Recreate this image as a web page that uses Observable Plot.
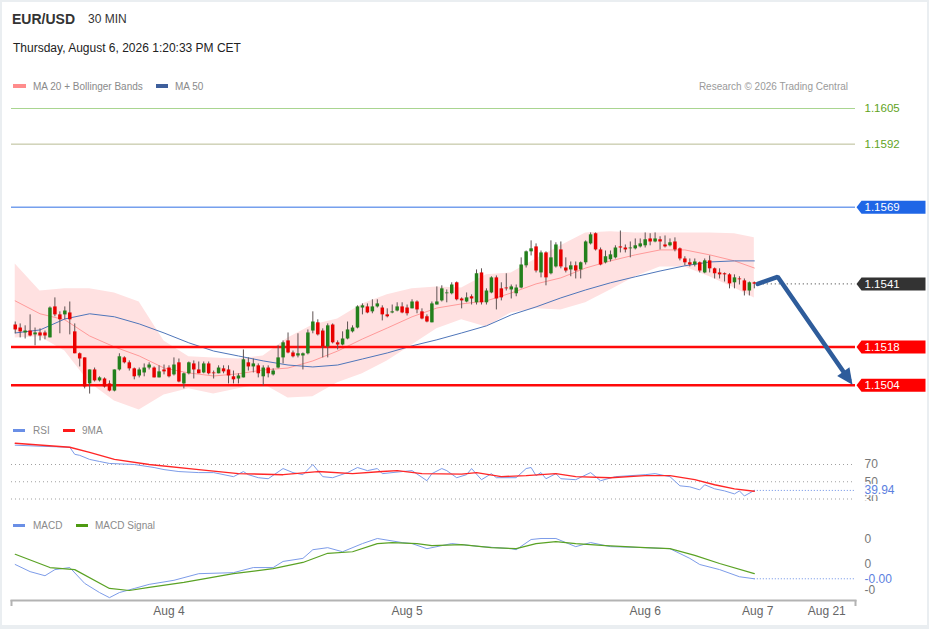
<!DOCTYPE html>
<html><head><meta charset="utf-8">
<script src="https://cdn.jsdelivr.net/npm/d3@7"></script>
<script src="https://cdn.jsdelivr.net/npm/@observablehq/plot@0.6"></script>
<style>
html,body{margin:0;padding:0;background:#fff;}
#page{position:relative;width:929px;height:629px;overflow:hidden;font-family:"Liberation Sans",Arial,sans-serif;background:#fff;}
.t{position:absolute;white-space:nowrap;line-height:1;}
.sw{position:absolute;}
#border{position:absolute;left:0;top:0;width:929px;height:629px;box-sizing:border-box;border:2px solid #eaeef1;border-bottom-width:4px;pointer-events:none;}
#page svg{position:absolute;left:0;}
</style></head>
<body><div id="page"></div>
<script>
// ---------- candle data (30 min, index 0..149) ----------
const open = [1.15260,1.15249,1.15231,1.15238,1.15224,1.15231,1.15231,1.15213,1.15326,1.15297,
1.15297,1.15304,1.15235,1.15155,1.15140,1.15045,1.15096,1.15056,1.15063,1.15045,
1.15019,1.15096,1.15140,1.15122,1.15100,1.15074,1.15085,1.15103,1.15103,1.15067,
1.15096,1.15103,1.15078,1.15122,1.15045,1.15082,1.15118,1.15096,1.15085,1.15118,
1.15085,1.15082,1.15100,1.15096,1.15071,1.15063,1.15067,1.15122,1.15107,1.15111,
1.15071,1.15103,1.15078,1.15103,1.15140,1.15202,1.15158,1.15147,1.15147,1.15155,
1.15238,1.15268,1.15238,1.15180,1.15260,1.15195,1.15187,1.15209,1.15235,1.15249,
1.15322,1.15326,1.15308,1.15326,1.15322,1.15297,1.15304,1.15311,1.15326,1.15322,
1.15319,1.15344,1.15308,1.15290,1.15268,1.15333,1.15348,1.15374,1.15374,1.15414,
1.15355,1.15344,1.15363,1.15341,1.15450,1.15341,1.15377,1.15432,1.15392,1.15395,
1.15388,1.15374,1.15395,1.15476,1.15527,1.15545,1.15450,1.15523,1.15447,1.15472,
1.15534,1.15468,1.15461,1.15476,1.15461,1.15487,1.15556,1.15593,1.15534,1.15487,
1.15498,1.15505,1.15545,1.15541,1.15538,1.15538,1.15545,1.15549,1.15574,1.15563,
1.15571,1.15552,1.15549,1.15563,1.15538,1.15501,1.15487,1.15479,1.15487,1.15450,
1.15494,1.15465,1.15450,1.15447,1.15443,1.15414,1.15428,1.15421,1.15384,1.15414];
const close = [1.15242,1.15235,1.15238,1.15220,1.15231,1.15220,1.15220,1.15322,1.15297,1.15279,
1.15311,1.15279,1.15155,1.15136,1.15034,1.15096,1.15056,1.15067,1.15034,1.15019,
1.15096,1.15144,1.15122,1.15100,1.15071,1.15096,1.15103,1.15114,1.15067,1.15089,
1.15089,1.15071,1.15114,1.15052,1.15082,1.15122,1.15096,1.15082,1.15118,1.15082,
1.15082,1.15103,1.15089,1.15074,1.15060,1.15074,1.15133,1.15107,1.15118,1.15082,
1.15103,1.15082,1.15092,1.15140,1.15195,1.15158,1.15144,1.15155,1.15155,1.15231,
1.15271,1.15224,1.15180,1.15257,1.15195,1.15187,1.15209,1.15242,1.15249,1.15326,
1.15330,1.15304,1.15326,1.15337,1.15297,1.15290,1.15308,1.15326,1.15304,1.15301,
1.15344,1.15315,1.15282,1.15271,1.15337,1.15344,1.15392,1.15377,1.15406,1.15352,
1.15348,1.15359,1.15355,1.15447,1.15341,1.15384,1.15432,1.15355,1.15359,1.15392,
1.15399,1.15395,1.15479,1.15527,1.15538,1.15457,1.15523,1.15432,1.15505,1.15552,
1.15472,1.15457,1.15476,1.15457,1.15487,1.15563,1.15589,1.15534,1.15479,1.15509,
1.15516,1.15541,1.15541,1.15534,1.15541,1.15549,1.15556,1.15571,1.15563,1.15574,
1.15563,1.15545,1.15560,1.15534,1.15501,1.15487,1.15479,1.15490,1.15457,1.15494,
1.15465,1.15447,1.15443,1.15443,1.15410,1.15432,1.15425,1.15384,1.15414,1.15409];
const high = [1.15271,1.15264,1.15257,1.15297,1.15249,1.15246,1.15238,1.15326,1.15359,1.15308,
1.15326,1.15344,1.15264,1.15158,1.15140,1.15096,1.15103,1.15071,1.15067,1.15056,
1.15096,1.15155,1.15144,1.15129,1.15103,1.15103,1.15118,1.15122,1.15107,1.15111,
1.15114,1.15111,1.15140,1.15136,1.15085,1.15125,1.15129,1.15125,1.15125,1.15125,
1.15092,1.15111,1.15111,1.15111,1.15092,1.15082,1.15169,1.15140,1.15136,1.15118,
1.15111,1.15111,1.15100,1.15184,1.15202,1.15231,1.15165,1.15228,1.15158,1.15242,
1.15308,1.15279,1.15246,1.15264,1.15264,1.15202,1.15235,1.15271,1.15257,1.15330,
1.15337,1.15337,1.15352,1.15352,1.15330,1.15319,1.15333,1.15341,1.15341,1.15333,
1.15352,1.15348,1.15319,1.15297,1.15344,1.15399,1.15403,1.15388,1.15414,1.15417,
1.15359,1.15377,1.15370,1.15461,1.15465,1.15392,1.15436,1.15439,1.15414,1.15447,
1.15406,1.15406,1.15505,1.15530,1.15567,1.15556,1.15530,1.15527,1.15567,1.15560,
1.15563,1.15505,1.15490,1.15490,1.15490,1.15567,1.15596,1.15596,1.15541,1.15530,
1.15530,1.15549,1.15603,1.15552,1.15563,1.15574,1.15574,1.15596,1.15593,1.15596,
1.15582,1.15585,1.15574,1.15578,1.15541,1.15509,1.15501,1.15501,1.15490,1.15501,
1.15512,1.15468,1.15465,1.15450,1.15447,1.15443,1.15436,1.15428,1.15417,1.15417];
const low = [1.15228,1.15213,1.15209,1.15217,1.15184,1.15202,1.15206,1.15213,1.15290,1.15228,
1.15279,1.15224,1.15155,1.15107,1.15027,1.15008,1.15052,1.15052,1.15030,1.15016,
1.15016,1.15092,1.15118,1.15092,1.15060,1.15067,1.15071,1.15096,1.15067,1.15067,
1.15078,1.15067,1.15074,1.15049,1.15027,1.15078,1.15063,1.15082,1.15082,1.15078,
1.15063,1.15082,1.15082,1.15045,1.15045,1.15045,1.15067,1.15092,1.15085,1.15067,
1.15038,1.15067,1.15074,1.15100,1.15118,1.15155,1.15140,1.15140,1.15096,1.15151,
1.15228,1.15220,1.15140,1.15140,1.15191,1.15169,1.15184,1.15206,1.15231,1.15246,
1.15297,1.15301,1.15301,1.15322,1.15275,1.15286,1.15301,1.15308,1.15301,1.15293,
1.15319,1.15301,1.15279,1.15268,1.15268,1.15333,1.15344,1.15341,1.15370,1.15348,
1.15319,1.15341,1.15333,1.15333,1.15333,1.15333,1.15374,1.15315,1.15348,1.15384,
1.15355,1.15363,1.15392,1.15468,1.15512,1.15450,1.15432,1.15403,1.15443,1.15468,
1.15465,1.15450,1.15436,1.15428,1.15428,1.15479,1.15552,1.15530,1.15476,1.15483,
1.15490,1.15501,1.15523,1.15523,1.15505,1.15534,1.15541,1.15541,1.15549,1.15560,
1.15534,1.15541,1.15545,1.15527,1.15494,1.15476,1.15472,1.15472,1.15450,1.15447,
1.15450,1.15428,1.15428,1.15417,1.15392,1.15392,1.15406,1.15366,1.15366,1.15392];

// ---------- MA 20 + Bollinger Bands, MA 50 (read at every 5th candle) ----------
const bbIdx = [0,5,10,15,20,25,30,35,40,45,50,55,60,65,70,75,80,85,90,95,100,105,110,115,120,125,130,135,140,145,149];
const ma20 = [1.15348,1.15301,1.15279,1.15220,1.15180,1.15147,1.15103,1.15085,1.15074,1.15082,1.15096,1.15103,1.15129,1.15165,1.15209,1.15249,1.15290,1.15322,1.15337,1.15348,1.15377,1.15410,1.15432,1.15468,1.15494,1.15516,1.15534,1.15534,1.15516,1.15494,1.15468];
const bbUpper = [1.15483,1.15384,1.15392,1.15392,1.15377,1.15344,1.15202,1.15144,1.15140,1.15136,1.15147,1.15213,1.15260,1.15282,1.15337,1.15370,1.15392,1.15399,1.15395,1.15443,1.15450,1.15501,1.15549,1.15596,1.15600,1.15596,1.15596,1.15596,1.15596,1.15593,1.15578];
const bbLower = [1.15213,1.15217,1.15165,1.15049,1.14983,1.14950,1.15005,1.15027,1.15008,1.15027,1.15045,1.14994,1.14998,1.15049,1.15082,1.15129,1.15187,1.15246,1.15279,1.15253,1.15304,1.15319,1.15315,1.15341,1.15388,1.15436,1.15472,1.15472,1.15436,1.15395,1.15359];
const ma50 = [1.15231,1.15242,1.15282,1.15301,1.15290,1.15264,1.15231,1.15195,1.15165,1.15147,1.15129,1.15114,1.15107,1.15114,1.15136,1.15158,1.15184,1.15206,1.15231,1.15257,1.15297,1.15326,1.15359,1.15388,1.15414,1.15436,1.15457,1.15476,1.15490,1.15494,1.15494];

// ---------- levels ----------
const greenLevels = [1.1605, 1.1592];
const pivotLevel = 1.1569;
const lastPrice = 1.1541;
const supportLevels = [1.1518, 1.1504];
// projection arrow (candle index, price)
const projIdx = [149.7, 153.7, 168.1];
const projPrice = [1.1541, 1.15436, 1.15060];

// ---------- RSI ----------
const rsiIdx = [0,5,11,12,13,15,17,19,24,28,30,33,37,40,44,46,47,49,51,54,56,58,60,62,64,67,69,71,73,74,78,80,83,84,86,87,89,91,92,94,96,97,101,103,104,105,106,107,109,110,113,116,118,121,127,129,132,134,136,138,139,141,143,145,146,147,149];
const rsiVal = [92.4,91.2,90.0,81.8,80.6,75.9,73.5,71.2,70.0,66.5,64.1,61.8,60.6,60.6,55.9,61.8,58.2,54.7,53.5,65.3,60.6,58.2,70.0,55.9,54.7,60.6,66.5,62.9,65.3,59.4,61.8,62.9,51.2,59.4,65.3,62.9,54.7,58.2,65.3,52.4,59.4,54.7,54.7,65.3,66.5,57.1,60.6,53.5,59.4,53.5,52.4,60.6,51.2,55.9,58.2,59.4,55.9,45.3,44.1,40.6,46.5,41.8,39.4,35.9,39.4,33.5,39.94];
const rsiMaIdx = [0,11,15,20,27,37,45,54,61,68,74,77,82,90,93,98,103,109,113,120,127,132,137,141,145,149];
const rsiMaVal = [94.7,90.0,84.1,75.9,70.0,64.1,59.4,58.2,61.8,59.4,61.8,62.9,59.4,58.8,60.6,55.9,57.1,59.4,55.9,54.7,57.1,57.1,52.4,46.5,41.8,39.0];
const rsiLevels = [70, 50, 30];
const rsiLast = 39.94;

// ---------- MACD ----------
const macdIdx = [0,3,6,8,11,14,17,19,21,24,27,32,37,44,48,52,54,58,60,63,66,70,73,78,80,83,88,90,94,100,101,104,106,109,113,116,120,127,132,136,138,142,146,149];
const macdVal = [0.00000,-0.00014,-0.00022,-0.00010,-0.00006,-0.00037,-0.00055,-0.00065,-0.00055,-0.00047,-0.00039,-0.00031,-0.00018,-0.00016,-0.00006,-0.00006,0.00006,0.00012,0.00029,0.00033,0.00025,0.00041,0.00051,0.00043,0.00041,0.00031,0.00041,0.00039,0.00035,0.00031,0.00029,0.00049,0.00051,0.00051,0.00035,0.00043,0.00035,0.00033,0.00031,0.00012,0.00000,-0.00010,-0.00024,-0.00028];
const signalIdx = [0,7,12,19,23,27,34,44,52,58,63,68,73,76,81,84,90,96,101,105,109,113,119,127,132,137,142,149];
const signalVal = [0.00020,-0.00006,-0.00010,-0.00047,-0.00051,-0.00045,-0.00035,-0.00018,-0.00008,0.00004,0.00022,0.00025,0.00041,0.00043,0.00041,0.00037,0.00039,0.00033,0.00031,0.00041,0.00045,0.00041,0.00037,0.00033,0.00031,0.00018,0.00002,-0.00018];
const macdTicks = [0.0005, 0, -0.0005];
const macdTickLabels = ["0", "0", "-0"];
const macdLast = -0.00028;
const macdLastLabel = "-0.00";

// ---------- x axis ----------
const xDomain = [-0.75, 169.4];
const xTickIdx = [31, 79, 127, 149.7, 163.6];
const xTickLabels = ["Aug 4", "Aug 5", "Aug 6", "Aug 7", "Aug 21"];
const lastIdx = 149;

// ---------- build tables ----------
const candles = open.map((o, i) => ({i, open: o, high: high[i], low: low[i], close: close[i]}));
const ups = candles.filter(d => d.close >= d.open);
const downs = candles.filter(d => d.close < d.open);
const bands = bbIdx.map((i, k) => ({i, ma20: ma20[k], upper: bbUpper[k], lower: bbLower[k], ma50: ma50[k]}));
const proj = projIdx.map((i, k) => ({i, p: projPrice[k]}));
const rsi = rsiIdx.map((i, k) => ({i, v: rsiVal[k]}));
const rsiMa = rsiMaIdx.map((i, k) => ({i, v: rsiMaVal[k]}));
const macd = macdIdx.map((i, k) => ({i, v: macdVal[k]}));
const signal = signalIdx.map((i, k) => ({i, v: signalVal[k]}));

const FONT = "'Liberation Sans', Arial, sans-serif";
const plotStyle = {background: "transparent", fontFamily: FONT, fontSize: "12px"};
const W = 929, ML = 11, MR = 74;

const tagSymbol = {draw(ctx) { ctx.moveTo(1, 0); ctx.lineTo(6, -6.5); ctx.lineTo(70, -6.5); ctx.lineTo(70, 6.5); ctx.lineTo(6, 6.5); ctx.closePath(); }};
const headSymbol = {draw(ctx) { ctx.moveTo(6, 0); ctx.lineTo(-10, -7.5); ctx.lineTo(-10, 7.5); ctx.closePath(); }};
const fmt4 = d3.format(".4f");

const tag = (v, color) => Plot.dot([v], {y: d => d, frameAnchor: "right", symbol: tagSymbol, fill: color, stroke: "none"});
const tagText = (vals, color) => Plot.text(vals, {y: d => d, text: d => fmt4(d), frameAnchor: "right", dx: 9, textAnchor: "start", fill: color, fontSize: 11.5});

const mainSvg = Plot.plot({
  width: W, height: 420, marginLeft: ML, marginRight: MR, marginTop: 0, marginBottom: 0,
  x: {domain: xDomain, axis: null},
  y: {domain: [1.1504, 1.1605], range: [384.8, 108], axis: null},
  style: plotStyle,
  marks: [
    Plot.areaY(bands, {x: "i", y1: "lower", y2: "upper", fill: "#ffe1e1"}),
    Plot.line(bands, {x: "i", y: "ma20", stroke: "#ff9a9a", strokeWidth: 1}),
    Plot.line(bands, {x: "i", y: "ma50", stroke: "#4f76ba", strokeWidth: 1}),
    Plot.ruleY([greenLevels[0]], {stroke: "#a9d590", strokeWidth: 1}),
    Plot.ruleY([greenLevels[1]], {stroke: "#b8bb93", strokeWidth: 1}),
    Plot.ruleY([pivotLevel], {stroke: "#2f6fe4", strokeWidth: 1}),
    Plot.ruleY(supportLevels, {stroke: "#ff0a0a", strokeWidth: 2.5}),
    Plot.ruleX(candles, {x: "i", y1: "low", y2: "high", stroke: "#5e5252", strokeWidth: 1}),
    Plot.ruleX(ups, {x: "i", y1: "open", y2: "close", stroke: "#23801c", strokeWidth: 3.5}),
    Plot.ruleX(downs, {x: "i", y1: "open", y2: "close", stroke: "#e80000", strokeWidth: 3.5}),
    Plot.ruleY([lastPrice], {x1: lastIdx + 1, x2: xDomain[1], stroke: "#333", strokeDasharray: "1,3"}),
    tag(pivotLevel, "#1f66e6"),
    tag(lastPrice, "#333333"),
    tag(supportLevels[0], "#ff0000"),
    tag(supportLevels[1], "#ff0000"),
    tagText([pivotLevel, lastPrice, ...supportLevels], "white"),
    tagText(greenLevels, "#62a31d"),
    Plot.line(proj, {x: "i", y: "p", stroke: "#2e5c9b", strokeWidth: 4.5, strokeLinejoin: "miter"}),
    Plot.dot([proj[proj.length - 1]], {x: "i", y: "p", symbol: headSymbol, rotate: 55, fill: "#2e5c9b", stroke: "none"})
  ]
});
mainSvg.style.top = "0px";

const rsiSvg = Plot.plot({
  width: W, height: 81, marginLeft: ML, marginRight: MR, marginTop: 0, marginBottom: 0,
  x: {domain: xDomain, axis: null},
  y: {domain: [30, 70], range: [78.5, 44], axis: null},
  style: plotStyle,
  marks: [
    Plot.ruleY(rsiLevels, {stroke: "#a0a0a0", strokeDasharray: "1,3"}),
    Plot.ruleY([rsiLast], {x1: lastIdx, x2: xDomain[1], stroke: "#6a8fe6", strokeDasharray: "1,2"}),
    Plot.line(rsi, {x: "i", y: "v", stroke: "#7d9ce9", strokeWidth: 1}),
    Plot.line(rsiMa, {x: "i", y: "v", stroke: "#ff2626", strokeWidth: 1.4}),
    Plot.text(rsiLevels, {y: d => d, text: d => String(d), frameAnchor: "right", dx: 9, textAnchor: "start", fill: "#777", fontSize: 12}),
    Plot.text([rsiLast], {y: d => d, text: d => d3.format(".2f")(d), frameAnchor: "right", dx: 9, textAnchor: "start", fill: "#5b80e0", fontSize: 12, stroke: "white", strokeWidth: 3, paintOrder: "stroke"})
  ]
});
rsiSvg.style.top = "420px";

const macdSvg = Plot.plot({
  width: W, height: 124, marginLeft: ML, marginRight: MR, marginTop: 0, marginBottom: 29,
  x: {domain: xDomain, axis: null},
  y: {domain: [-0.0005, 0.0005], range: [84.5, 33.5], axis: null},
  style: plotStyle,
  marks: [
    Plot.ruleY([macdLast], {x1: lastIdx, x2: xDomain[1], stroke: "#6a8fe6", strokeDasharray: "1,2"}),
    Plot.line(macd, {x: "i", y: "v", stroke: "#7d9ce9", strokeWidth: 1}),
    Plot.line(signal, {x: "i", y: "v", stroke: "#5aa224", strokeWidth: 1.2}),
    Plot.text(macdTicks, {y: d => d, text: (d, k) => macdTickLabels[k], frameAnchor: "right", dx: 9, textAnchor: "start", fill: "#777", fontSize: 12}),
    Plot.text([macdLast], {y: d => d, text: () => macdLastLabel, frameAnchor: "right", dx: 9, textAnchor: "start", fill: "#5b80e0", fontSize: 12, stroke: "white", strokeWidth: 3, paintOrder: "stroke"}),
    Plot.frame({anchor: "bottom", stroke: "#b3b3b3", strokeWidth: 2}),
    Plot.ruleX(xDomain, {stroke: "#b3b3b3", strokeWidth: 2, insetTop: 95, insetBottom: -6}),
    Plot.text(xTickLabels, {x: (d, k) => xTickIdx[k], text: d => d, frameAnchor: "bottom", dy: 14, fill: "#666", fontSize: 12})
  ]
});
macdSvg.style.top = "505px";

const page = document.getElementById("page");
page.append(mainSvg, rsiSvg, macdSvg);

// ---------- header, legends (HTML text) ----------
function txt(s, left, top, size, color, extra) {
  const d = document.createElement("div");
  d.className = "t"; d.textContent = s;
  d.style.left = left + "px"; d.style.top = top + "px";
  d.style.fontSize = size + "px"; d.style.color = color;
  if (extra) Object.assign(d.style, extra);
  page.append(d); return d;
}
function sw(left, top, w, h, color) {
  const d = document.createElement("div");
  d.className = "sw";
  Object.assign(d.style, {left: left + "px", top: top + "px", width: w + "px", height: h + "px", background: color});
  page.append(d);
}
txt("EUR/USD", 12, 12, 14, "#333", {fontWeight: "bold"});
txt("30 MIN", 88, 13, 12, "#333");
txt("Thursday, August 6, 2026 1:20:33 PM CET", 13, 42, 12, "#222");
sw(13, 84, 13, 4, "#ff8c8c");
txt("MA 20 + Bollinger Bands", 33, 82, 10, "#8a8a8a");
sw(156, 84, 12, 4, "#3e5f9c");
txt("MA 50", 175, 82, 10, "#8a8a8a");
txt("Research \u00a9 2026 Trading Central", 0, 82, 10, "#9a9a9a", {left: "auto", right: "81px"});
sw(13, 429, 12, 3, "#6a8fe6");
txt("RSI", 33, 426, 10, "#8a8a8a");
sw(63, 429, 12, 3, "#ff1a1a");
txt("9MA", 82, 426, 10, "#8a8a8a");
sw(13, 524, 12, 3, "#6a8fe6");
txt("MACD", 33, 521, 10, "#8a8a8a");
sw(76, 524, 12, 3, "#4e9a12");
txt("MACD Signal", 95, 521, 10, "#8a8a8a");
const b = document.createElement("div"); b.id = "border"; page.append(b);
</script>
</body></html>
